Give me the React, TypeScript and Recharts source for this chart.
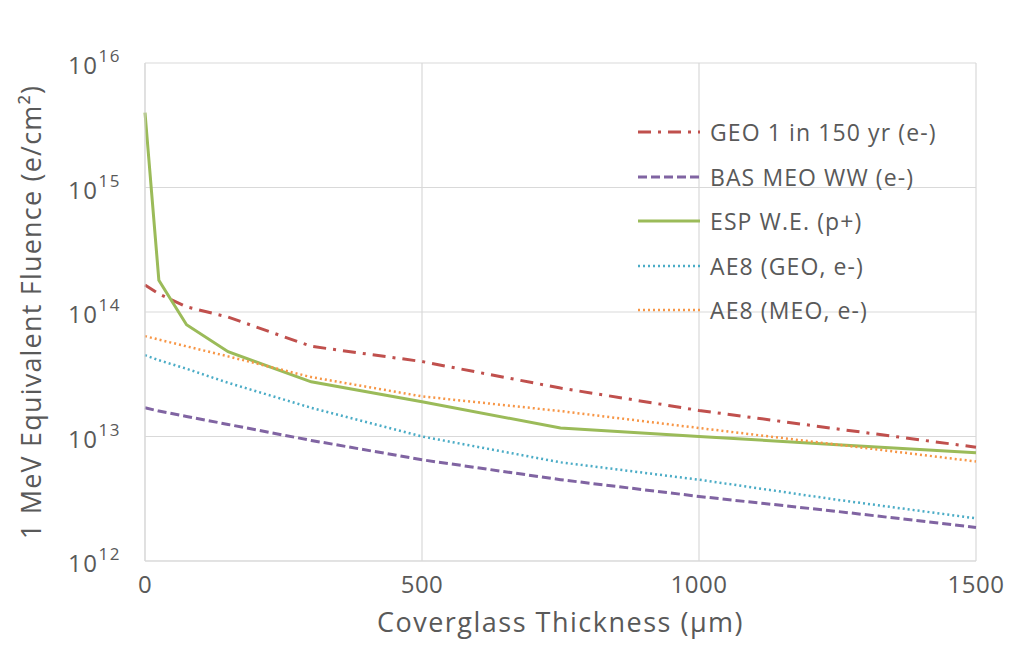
import { CartesianGrid, Line, LineChart, XAxis, YAxis } from 'recharts';

const thickness = [0, 25, 75, 150, 300, 500, 750, 1000, 1250, 1500];
const geo150 = [1.65e14, 1.4e14, 1.1e14, 9.1e13, 5.3e13, 4.0e13, 2.45e13, 1.62e13, 1.15e13, 8.2e12];
const basMeo = [1.7e13, 1.6e13, 1.45e13, 1.25e13, 9.3e12, 6.5e12, 4.5e12, 3.3e12, 2.5e12, 1.86e12];
const espWe = [4.0e15, 1.8e14, 7.9e13, 4.8e13, 2.75e13, 1.9e13, 1.17e13, 1.0e13, 8.6e12, 7.4e12];
const ae8Geo = [4.5e13, 4.1e13, 3.5e13, 2.7e13, 1.7e13, 1.0e13, 6.2e12, 4.5e12, 3.1e12, 2.2e12];
const ae8Meo = [6.4e13, 6.0e13, 5.3e13, 4.4e13, 3.0e13, 2.1e13, 1.6e13, 1.17e13, 8.6e12, 6.3e12];

const xTicks = [0, 500, 1000, 1500];
const yTicks = [1e12, 1e13, 1e14, 1e15, 1e16];

const series = [
  { key: 'geo150', name: 'GEO 1 in 150 yr (e-)', color: '#c0504d', dash: '13 7 3 7', width: 3 },
  { key: 'basMeo', name: 'BAS MEO WW (e-)', color: '#8064a2', dash: '9 4', width: 3 },
  { key: 'espWe', name: 'ESP W.E. (p+)', color: '#9bbb59', dash: undefined, width: 3 },
  { key: 'ae8Geo', name: 'AE8 (GEO, e-)', color: '#4bacc6', dash: '2 3', width: 2.5 },
  { key: 'ae8Meo', name: 'AE8 (MEO, e-)', color: '#f79646', dash: '2 3', width: 2.5 },
];

const data = thickness.map((t, i) => ({
  t,
  geo150: geo150[i],
  basMeo: basMeo[i],
  espWe: espWe[i],
  ae8Geo: ae8Geo[i],
  ae8Meo: ae8Meo[i],
}));

const font = "'Open Sans', sans-serif";
const textColor = '#595959';

function PowerTick({ x, y, payload }: any) {
  const exp = Math.round(Math.log10(payload.value));
  return (
    <text x={x - 16} y={y + 11} textAnchor="end" fill={textColor} fontFamily={font} fontSize={24} letterSpacing={1.5}>
      10
      <tspan fontSize={17} dy={-12} letterSpacing={1.5}>{exp}</tspan>
    </text>
  );
}

function LegendBox() {
  return (
    <div
      style={{
        position: 'absolute',
        left: 637,
        top: 110,
        fontFamily: font,
        fontSize: 23,
        letterSpacing: 1.1,
        color: textColor,
        pointerEvents: 'none',
      }}
    >
      {series.map((s) => (
        <div key={s.key} style={{ display: 'flex', alignItems: 'center', height: 44.5 }}>
          <svg width={64} height={10} style={{ marginRight: 9 }}>
            <line x1={1} y1={5} x2={63} y2={5} stroke={s.color} strokeWidth={s.width} strokeDasharray={s.dash} />
          </svg>
          <span>{s.name}</span>
        </div>
      ))}
    </div>
  );
}

export default function App() {
  return (
    <div style={{ position: 'absolute', left: 0, top: 0, width: 1009, height: 645, background: '#fff' }}>
      <LineChart width={1009} height={645} data={data} margin={{ top: 63, right: 33, bottom: 0, left: 0 }}>
        <CartesianGrid stroke="#d9d9d9" strokeWidth={1.2} />
        <XAxis
          dataKey="t"
          type="number"
          domain={[0, 1500]}
          ticks={xTicks}
          height={84}
          stroke="#d9d9d9"
          tickLine={false}
          tick={{ fill: textColor, fontFamily: font, fontSize: 24, letterSpacing: 0.5 }}
          tickMargin={9}
          label={{ value: 'Coverglass Thickness (µm)', position: 'insideBottom', offset: 13, fill: textColor, fontFamily: font, fontSize: 27, letterSpacing: 1.5 }}
        />
        <YAxis
          scale="log"
          domain={[1e12, 1e16]}
          ticks={yTicks}
          allowDataOverflow
          width={145}
          stroke="#d9d9d9"
          tickLine={false}
          tick={<PowerTick />}
          label={{ value: '1 MeV Equivalent Fluence (e/cm²)', angle: -90, position: 'insideLeft', offset: 31, style: { textAnchor: 'middle' }, fill: textColor, fontFamily: font, fontSize: 27, letterSpacing: 1.2 }}
        />
        {series.map((s) => (
          <Line
            key={s.key}
            type="linear"
            dataKey={s.key}
            name={s.name}
            stroke={s.color}
            strokeWidth={s.width}
            strokeDasharray={s.dash}
            dot={false}
            isAnimationActive={false}
          />
        ))}
      </LineChart>
      <LegendBox />
    </div>
  );
}
